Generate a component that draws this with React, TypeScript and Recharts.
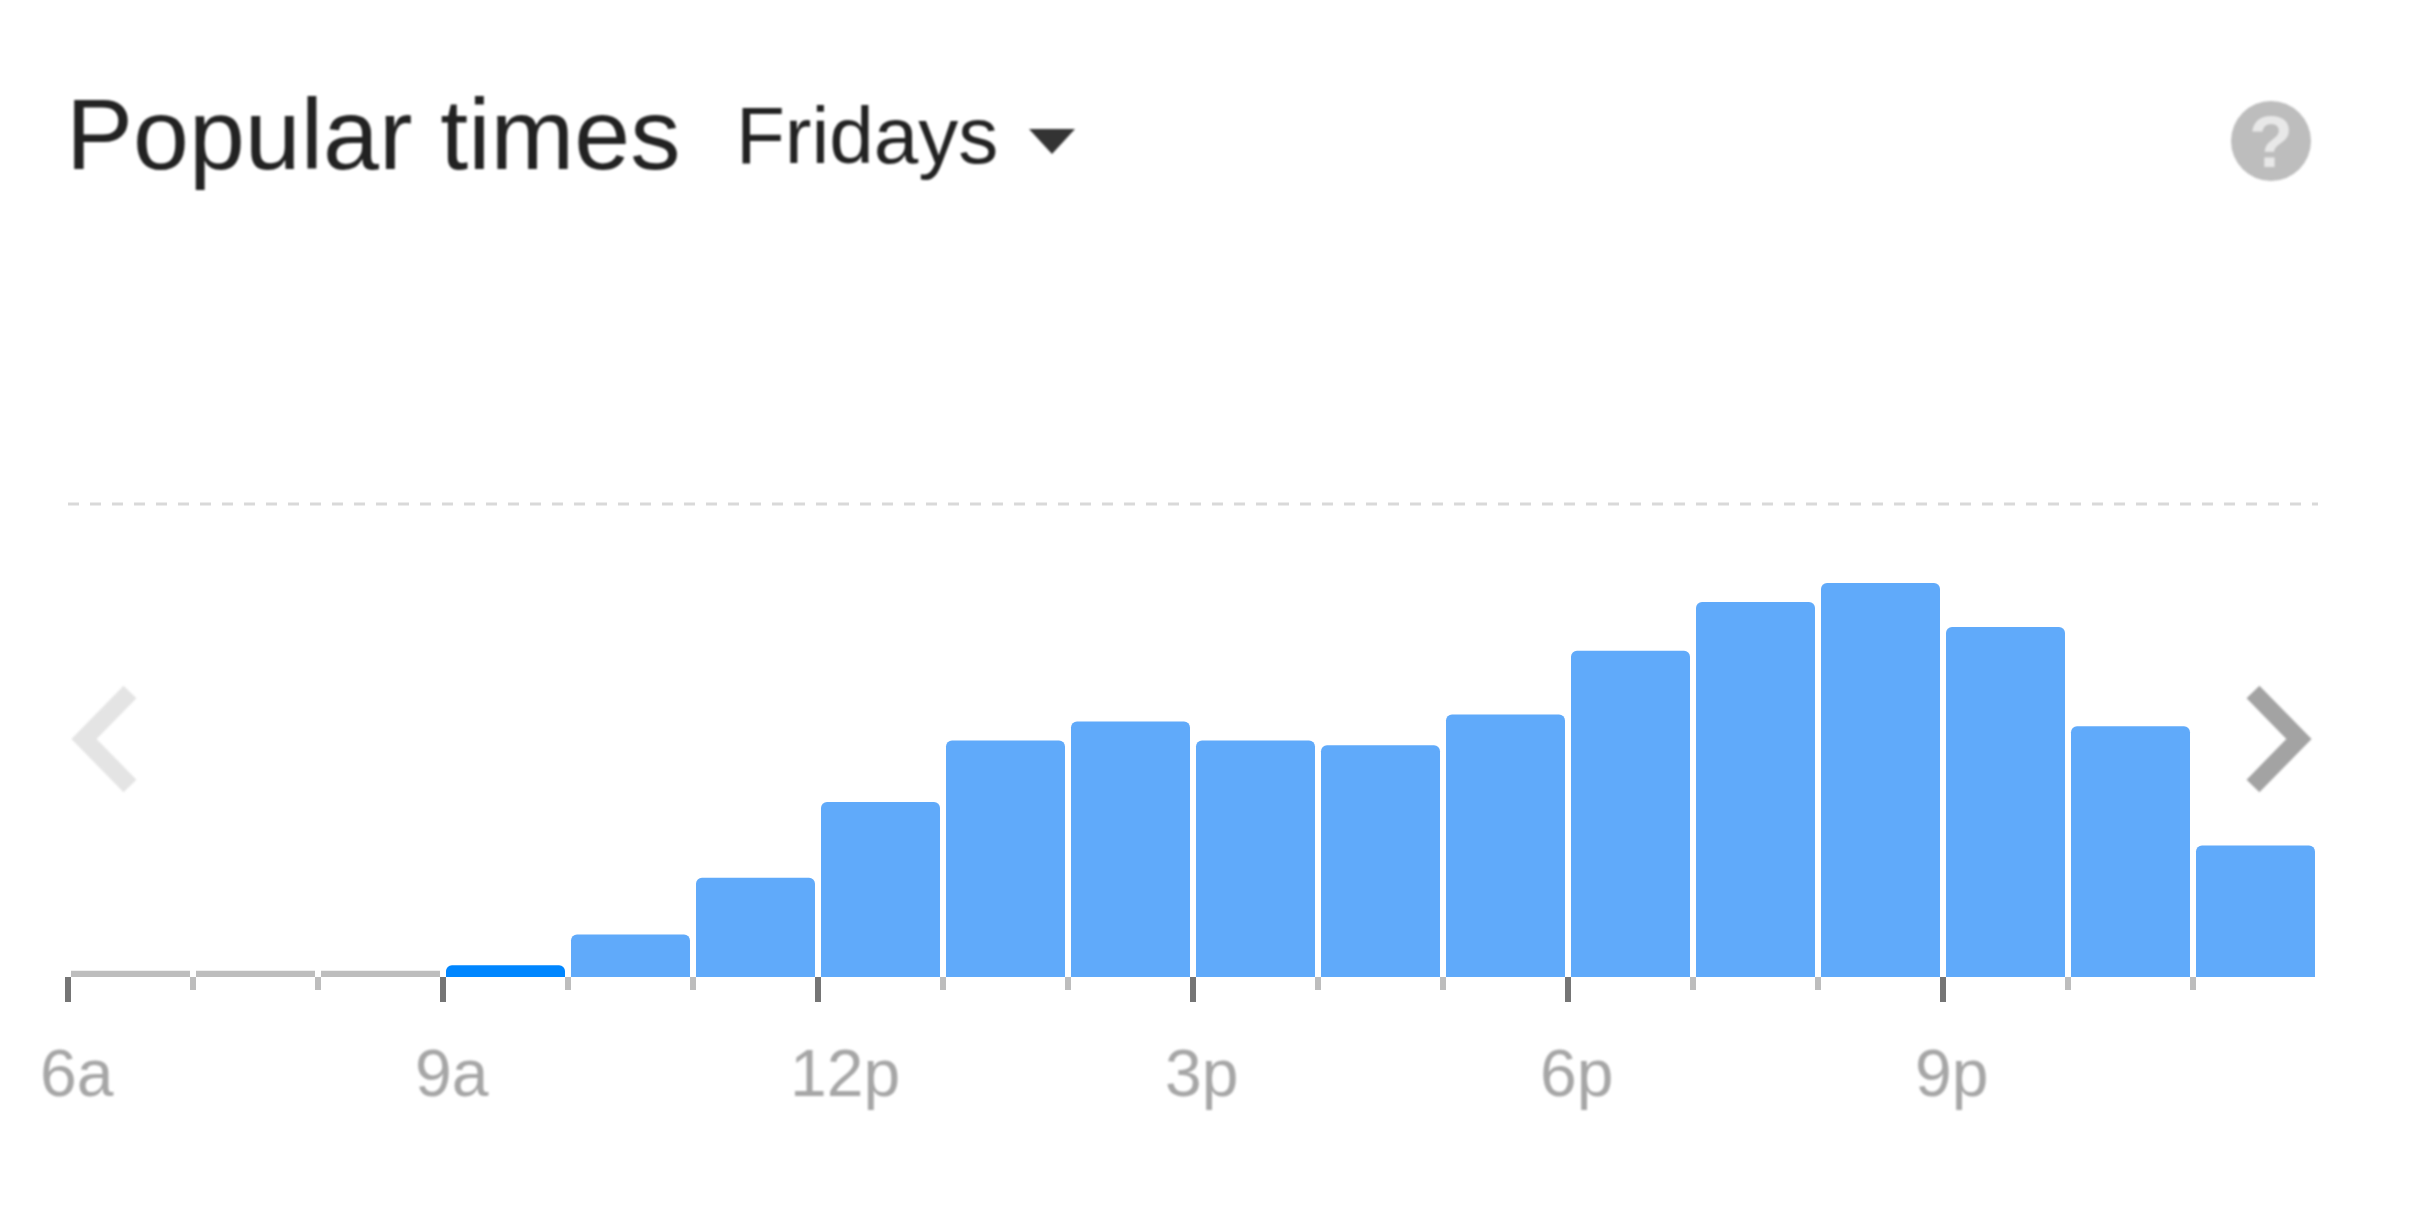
import { BarChart, Bar, Cell, XAxis, YAxis, ReferenceLine } from "recharts";

const HOURS = ["6a", "7a", "8a", "9a", "10a", "11a", "12p", "1p", "2p", "3p", "4p", "5p", "6p", "7p", "8p", "9p", "10p", "11p"];
const BUSY = [1.3, 1.3, 1.3, 2.5, 9, 21, 37, 50, 54, 50, 49, 55.5, 69, 79.3, 83.3, 74, 53, 27.8];
const LABELLED_HOURS = ["6a", "9a", "12p", "3p", "6p", "9p"];
const CURRENT_HOUR = "9a";
const QUIET_LEVEL = 2;

const data = HOURS.map((hour, i) => ({ hour, busy: BUSY[i] }));

const BAND = 125;

function barColor(hour: string, busy: number): string {
  if (hour === CURRENT_HOUR) return "#0086ff";
  if (busy < QUIET_LEVEL) return "#bdbdbd";
  return "#60aafa";
}

function HourTick({ x, y, payload }: any) {
  const left = x - BAND / 2;
  const major = LABELLED_HOURS.includes(payload.value);
  return (
    <g>
      <line
        x1={left}
        x2={left}
        y1={y}
        y2={y + (major ? 25 : 13)}
        stroke={major ? "#757575" : "#bdbdbd"}
        strokeWidth={6}
      />
      {major && (
        <text
          x={left - 28}
          y={y + 119}
          fontSize={66}
          fill="#a6a6a6"
          textAnchor="start"
          style={{ filter: "blur(1px)" }}
        >
          {payload.value}
        </text>
      )}
    </g>
  );
}

export default function App() {
  return (
    <div
      style={{
        position: "absolute",
        left: 0,
        top: 0,
        width: 2409,
        height: 1218,
        background: "#fff",
        fontFamily: "'Liberation Sans', Arial, sans-serif",
      }}
    >
      <BarChart
        width={2409}
        height={1218}
        data={data}
        margin={{ top: 504, right: 91, bottom: 0, left: 68 }}
        barCategoryGap={0}
      >
        <XAxis
          dataKey="hour"
          height={241}
          interval={0}
          axisLine={false}
          tickLine={false}
          tickSize={0}
          tickMargin={0}
          tick={HourTick}
        />
        <YAxis hide domain={[0, 100]} />
        <ReferenceLine y={100} stroke="#d9d9d9" strokeWidth={3} strokeDasharray="11 11" />
        <Bar dataKey="busy" barSize={119} radius={[6, 6, 0, 0]} isAnimationActive={false}>
          {data.map((d) => (
            <Cell
              key={d.hour}
              fill={barColor(d.hour, d.busy)}
              {...(d.busy < QUIET_LEVEL ? { radius: 0 } : {})}
            />
          ))}
        </Bar>
      </BarChart>

      <svg
        width={2409}
        height={1218}
        style={{ position: "absolute", left: 0, top: 0, pointerEvents: "none", filter: "blur(1px)" }}
      >
        <text x={66} y={169} fontSize={100.5} fill="#222">
          Popular times
        </text>
        <text x={736} y={163} fontSize={80} fill="#222">
          Fridays
        </text>
        <path d="M1029 129 L1075 129 L1052 154 Z" fill="#333" />
        <circle cx={2271} cy={141} r={40} fill="#bdbdbd" />
        <text x={2271} y={167} fontSize={72} fontWeight={700} fill="#e8e8e8" textAnchor="middle">
          ?
        </text>
        <path d="M130 692 L84 739 L130 786" fill="none" stroke="#e4e4e4" strokeWidth={18} />
        <path d="M2253 692 L2299 739 L2253 786" fill="none" stroke="#a3a3a3" strokeWidth={18} />
      </svg>
    </div>
  );
}
